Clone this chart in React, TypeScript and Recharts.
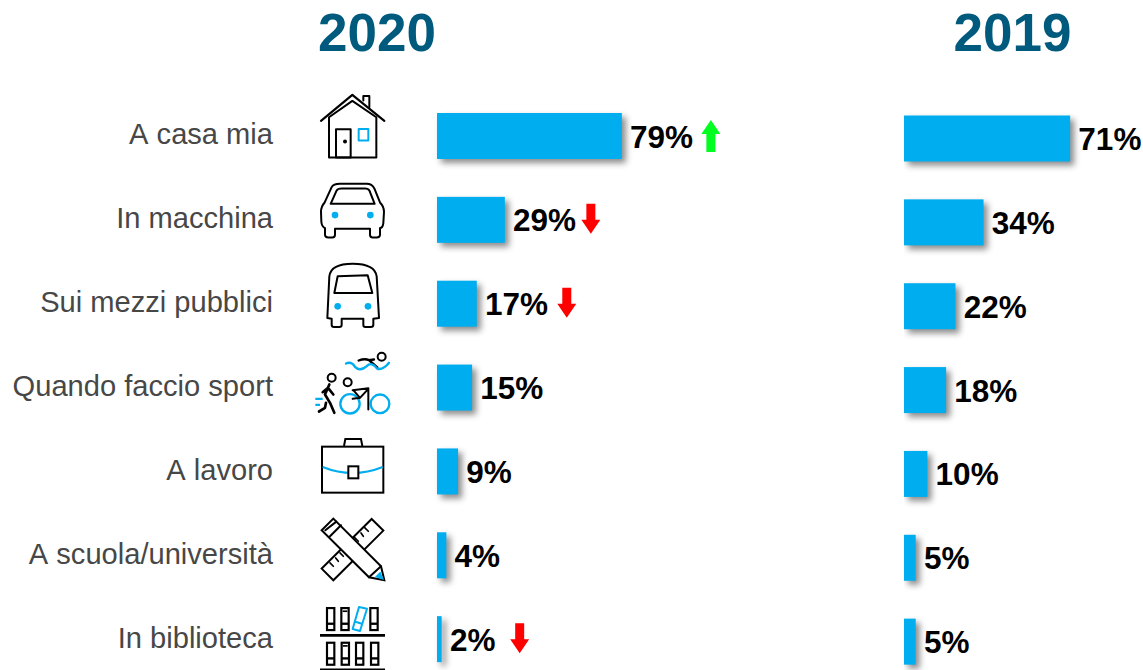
import React from "react";
import { BarChart, Bar, XAxis, YAxis, LabelList } from "recharts";

const categories = ["A casa mia", "In macchina", "Sui mezzi pubblici", "Quando faccio sport", "A lavoro", "A scuola/università", "In biblioteca"];
const values2020 = [79, 29, 17, 15, 9, 4, 2];
const values2019 = [71, 34, 22, 18, 10, 5, 5];
const trend2020 = ["up", "down", "down", "", "", "", "down"];
const titles = ["2020", "2019"];

const rows2020 = categories.map((name, i) => ({ name, value: values2020[i], trend: trend2020[i] }));
const rows2019 = categories.map((name, i) => ({ name, value: values2019[i] }));

const BLUE = "#00AEEF";
const TITLE = "#005A7D";
const FONT = "'Liberation Sans', Arial, sans-serif";
const ARROW_OFFSET: Record<number, number> = { 0: 81, 1: 78, 2: 82, 6: 70 };
const ROW_Y = [136, 220, 304, 388, 471.7, 555.6, 639];

function ShadowBar(p: any) {
  return <rect x={p.x} y={p.y} width={p.width} height={p.height} fill={BLUE} style={{ filter: "drop-shadow(4px 4px 3px rgba(0,0,0,0.45))" }} />;
}

function Icon({ index }: { index: number }) {
  const s = { fill: "none", stroke: "#000", strokeWidth: 6, strokeLinejoin: "round" as const, strokeLinecap: "round" as const };
  const b = { ...s, stroke: BLUE };
  if (index === 0)
    return (
      <g {...s}>
        <path d="M63 123 L157 45 L253 123" strokeWidth={6.500} />
        <path d="M87 112 L87 233 L229 233 L229 112 M87 112 L157 63 L229 112" />
        <path d="M190 62 L190 48 L208 48 L208 82" />
        <rect x={108} y={148} width={44} height={85} />
        <circle cx={135} cy={185} r={3} fill="#000" />
        <rect x={176} y={147} width={29} height={35} {...b} />
      </g>
    );
  if (index === 1)
    return (
      <g {...s}>
        <path d="M95 322 Q100 312 120 312 L200 312 Q216 312 223 326 L240 368 Q252 380 252 396 L250 430 Q248 445 240 445 L240 465 Q240 473 230 473 L218 473 Q210 473 210 465 L210 447 L105 447 L105 465 Q105 473 97 473 L85 473 Q75 473 75 465 L75 445 Q65 440 64 425 L63 396 Q63 380 74 368 Z" />
        <path d="M92 372 L110 332 Q113 326 125 326 L195 326 Q205 326 208 332 L224 372 Z" />
        <circle cx={105} cy={406} r={10} fill={BLUE} stroke="none" />
        <circle cx={211} cy={406} r={10} fill={BLUE} stroke="none" />
      </g>
    );
  if (index === 2)
    return (
      <g {...s}>
        <path d="M82 715 L88 590 Q92 552 158 552 Q225 552 230 590 L237 715 L220 717 L220 735 Q220 742 212 742 L196 742 Q190 742 190 735 L190 717 L125 717 L125 735 Q125 742 118 742 L102 742 Q95 742 95 735 L95 717 Z" />
        <path d="M103 640 L113 590 L203 587 L217 640 Z" />
        <circle cx={113} cy={680} r={10} fill={BLUE} stroke="none" />
        <circle cx={204} cy={680} r={10} fill={BLUE} stroke="none" />
      </g>
    );
  if (index === 3)
    return (
      <g {...s}>
        <circle cx={245} cy={52} r={12} />
        <path d="M176 63 Q195 56 207 62 L232 84 M207 62 L222 60" strokeWidth={7} />
        <path d="M138 72 Q155 65 165 82 Q180 98 200 80 Q215 65 232 88 Q250 92 267 70" {...b} strokeWidth={7} />
        <circle cx={95} cy={115} r={12} />
        <path d="M88 135 L75 165 L90 190 L103 220 M78 190 L75 205 L57 216 M84 145 L68 158 M84 145 L100 165" strokeWidth={8} />
        <path d="M46 178 L68 178 M46 196 L60 196" {...b} strokeWidth={7} strokeLinecap="butt" />
        <circle cx={143} cy={128} r={12} />
        <circle cx={150} cy={193} r={29} {...b} strokeWidth={7} />
        <circle cx={240} cy={193} r={28} {...b} strokeWidth={7} />
        <path d="M158 152 L205 146 L205 210 M205 148 L180 175 L160 152 M180 175 L158 178" />
      </g>
    );
  if (index === 4)
    return (
      <g {...s} strokeLinejoin="miter" strokeLinecap="butt">
        <rect x={66} y={321} width={184} height={138} />
        <path d="M132 319 L136 298 L183 298 L187 319" />
        <path d="M68 382 Q158 418 248 382" {...b} strokeLinecap="butt" />
        <rect x={145} y={380} width={30} height={36} fill="#fff" />
      </g>
    );
  if (index === 5)
    return (
      <g {...s} strokeLinejoin="miter">
        <path d="M215 538 L250 573 L100 722 L65 687 Z" fill="#fff" />
        <path d="M205 575 L194 564 M190 590 L183 580 M175 605 L164 594 M130 650 L120 640 M115 665 L107 655 M100 680 L90 670" strokeWidth={5} />
        <path d="M100 537 L243 680 L253 722 L207 713 L65 572 Z" fill="#fff" />
        <path d="M90 590 L123 557 M76 572 L109 546" />
        <path d="M225 712 L241 696 L252 721 Z" fill={BLUE} stroke="none" />
        <path d="M207 713 L243 680" />
      </g>
    );
  const book = (x: number, y: number, k: number) => (
    <g key={`${x}-${y}`}>
      <rect x={x} y={y} width={22} height={66} strokeWidth={6.500} />
      <path d={`M${x} ${y + 47} L${x + 22} ${y + 47}`} strokeWidth={7} />
      {k === 1 && <rect x={x + 4} y={y + 7} width={14} height={5} fill="#000" stroke="none" />}
    </g>
  );
  return (
    <g {...s} strokeLinejoin="miter" strokeLinecap="butt">
      {[[81, 0], [124, 1], [211, 0]].map(([x, k]) => book(x, 804, k))}
      <path d="M177 801 L201 806 L180 873 L158 867 Z M166 845 L188 852" {...b} strokeLinecap="butt" />
      <path d="M60 886 L255 886" strokeWidth={8} />
      {[[81, 0], [125, 1], [168, 0], [213, 0]].map(([x, k]) => book(x, 908, k))}
      <path d="M60 988 L255 988" strokeWidth={5} />
    </g>
  );
}

function CategoryTick(p: any) {
  const i = p.index as number;
  const originY = i < 3 ? 80 : 340;
  return (
    <g>
      <text x={273} y={p.y + 8.5} textAnchor="end" fontFamily={FONT} fontSize={29.1} fill="#474747" style={{ fontKerning: "none" }}>{p.payload.value}</text>
      <g transform={`translate(300 ${originY + p.y - ROW_Y[i]}) scale(${1 / 3})`}>
        <Icon index={i} />
      </g>
    </g>
  );
}

function ValueLabel(p: any) {
  const i = p.index as number;
  const x = p.x + p.width + 8.2;
  const cy = p.y + p.height / 2;
  const t = p.trends ? p.trends[i] : "";
  const ax = x - 0.2 + (ARROW_OFFSET[i] ?? 0);
  return (
    <g>
      <text x={x} y={cy + 11.5} fontFamily={FONT} fontWeight={700} fontSize={31.5} fill="#000">{p.value}%</text>
      {t === "down" && <path d={`M${ax - 4.5} ${cy - 16} h9 v16 h5 l-9.500 14 l-9.500 -14 h5 z`} fill="#FF0000" />}
      {t === "up" && <path d={`M${ax - 4.5} ${cy + 16} h9 v-18 h5 l-9.500 -14 l-9.500 14 h5 z`} fill="#00FF21" />}
    </g>
  );
}

const titleStyle = (center: number): React.CSSProperties => ({
  position: "absolute", left: center - 100, width: 200, top: 2, textAlign: "center",
  fontFamily: FONT, fontWeight: 700, fontSize: 53, lineHeight: "61px", color: TITLE,
});

export default function App() {
  return (
    <div style={{ position: "absolute", left: 0, top: 0, width: 1143, height: 670, overflow: "hidden", background: "#fff" }}>
      <div style={titleStyle(377)}>{titles[0]}</div>
      <div style={titleStyle(1012.5)}>{titles[1]}</div>
      <div style={{ position: "absolute", left: 0, top: 0 }}>
        <BarChart layout="vertical" width={800} height={700} data={rows2020} margin={{ top: 94, right: 129, bottom: 19, left: 0 }}>
          <XAxis type="number" domain={[0, 100]} hide />
          <YAxis type="category" dataKey="name" width={437} axisLine={false} tickLine={false} interval={0} tick={CategoryTick} />
          <Bar dataKey="value" barSize={46} isAnimationActive={false} shape={ShadowBar}>
            <LabelList dataKey="value" content={(p: any) => <ValueLabel {...p} trends={trend2020} />} />
          </Bar>
        </BarChart>
      </div>
      <div style={{ position: "absolute", left: 904, top: 0 }}>
        <BarChart layout="vertical" width={239} height={700} data={rows2019} margin={{ top: 96.5, right: 5, bottom: 16.5, left: 0 }}>
          <XAxis type="number" domain={[0, 100]} hide />
          <YAxis type="category" dataKey="name" hide />
          <Bar dataKey="value" barSize={46} isAnimationActive={false} shape={ShadowBar}>
            <LabelList dataKey="value" content={(p: any) => <ValueLabel {...p} />} />
          </Bar>
        </BarChart>
      </div>
    </div>
  );
}
